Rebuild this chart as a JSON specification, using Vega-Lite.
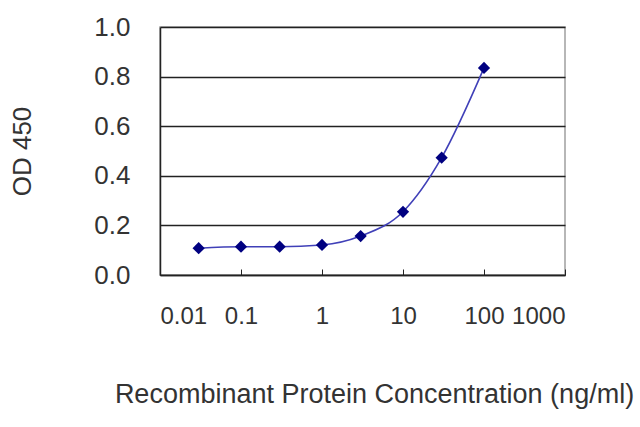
{
  "$schema": "https://vega.github.io/schema/vega-lite/v6.json",
  "width": 405,
  "height": 248,
  "autosize": "none",
  "padding": {"left": 160, "top": 27, "right": 75, "bottom": 152},
  "background": "white",
  "data": {
    "values": [
      {"conc": 0.03, "od": 0.108},
      {"conc": 0.1, "od": 0.114},
      {"conc": 0.3, "od": 0.114},
      {"conc": 1, "od": 0.121},
      {"conc": 3, "od": 0.157},
      {"conc": 10, "od": 0.255},
      {"conc": 30, "od": 0.473},
      {"conc": 100, "od": 0.835}
    ]
  },
  "encoding": {
    "x": {
      "field": "conc",
      "type": "quantitative",
      "title": "Recombinant Protein Concentration (ng/ml)",
      "scale": {"type": "log", "domain": [0.01, 1000], "nice": false},
      "axis": {
        "values": [0.01, 0.1, 1, 10, 100, 1000],
        "format": "~g",
        "grid": false,
        "tickSize": -6,
        "tickColor": "#222",
        "labelFontSize": 24,
        "labelOverlap": false,
        "labelPadding": 35,
        "titleFontSize": 27,
        "titleX": 214,
        "titleY": 127,
        "titleBaseline": "alphabetic",
        "titleAlign": "center"
      }
    },
    "y": {
      "field": "od",
      "type": "quantitative",
      "title": "OD 450",
      "scale": {"domain": [0, 1], "nice": false},
      "axis": {
        "values": [0, 0.2, 0.4, 0.6, 0.8, 1.0],
        "format": ".1f",
        "ticks": false,
        "labelPadding": 30,
        "titlePadding": 58,
        "gridColor": "#222",
        "gridWidth": 1.5
      }
    }
  },
  "layer": [
    {
      "mark": {"type": "line", "interpolate": "monotone", "color": "#4040b8", "strokeWidth": 1.6}
    },
    {
      "mark": {"type": "point", "shape": "diamond", "filled": true, "size": 150, "color": "#000080", "opacity": 1}
    }
  ],
  "config": {
    "font": "Liberation Sans",
    "view": {"stroke": "#a0a0a0", "strokeWidth": 1.5},
    "axis": {
      "domainColor": "#222",
      "domainWidth": 1.5,
      "labelFont": "Liberation Sans",
      "labelFontSize": 26,
      "labelColor": "#333",
      "titleFont": "Liberation Sans",
      "titleFontSize": 26,
      "titleFontWeight": "normal",
      "titleColor": "#333"
    }
  }
}
